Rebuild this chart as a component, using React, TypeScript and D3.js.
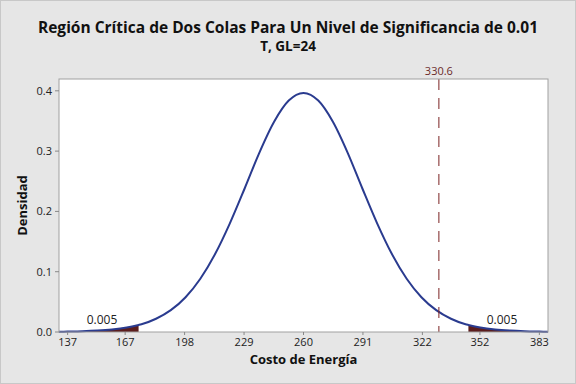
import React from "react";
import * as d3 from "d3";

const xValues = [132.5, 137, 144.7, 152.4, 160.1, 167.8, 174, 175.5, 183.1, 190.8, 198.5, 206.2, 213.9, 221.6, 229.3, 236.9, 244.6, 252.3, 260, 267.7, 275.4, 283.1, 290.7, 298.4, 306.1, 313.8, 321.5, 329.2, 336.9, 344.5, 346, 352.2, 359.9, 367.6, 375.3, 383, 387.5];
const densities = [0.0004, 0.00067, 0.00124, 0.00229, 0.00415, 0.0074, 0.0117, 0.0129, 0.022, 0.0362, 0.0577, 0.0884, 0.1293, 0.1802, 0.238, 0.2968, 0.3483, 0.3838, 0.3965, 0.3838, 0.3483, 0.2968, 0.238, 0.1802, 0.1293, 0.0884, 0.0577, 0.0362, 0.022, 0.0129, 0.0117, 0.0074, 0.00415, 0.00229, 0.00124, 0.00067, 0.0004];
const xTicks = [137, 167, 198, 229, 260, 291, 322, 352, 383];
const yTicks = [0.0, 0.1, 0.2, 0.3, 0.4];
const lowerCritical = 174;
const upperCritical = 346;
const markerValue = 330.6;
const tailAreas = ["0.005", "0.005"];
const title = "Región Crítica de Dos Colas Para Un Nivel de Significancia de 0.01";
const subtitle = "T, GL=24";
const xLabel = "Costo de Energía";
const yLabel = "Densidad";

export default function App() {
  const W = 576, H = 384;
  const L = 59, R = 548, T = 79, B = 332;
  const x = d3.scaleLinear().domain([132.5, 387.5]).range([L, R]);
  const y = d3.scaleLinear().domain([0, 0.4196]).range([B, T]);
  const pts: [number, number][] = xValues.map((v, i) => [v, densities[i]]);
  const line = d3.line<[number, number]>().x(d => x(d[0])).y(d => y(d[1])).curve(d3.curveMonotoneX);
  const area = d3.area<[number, number]>().x(d => x(d[0])).y0(y(0)).y1(d => y(d[1])).curve(d3.curveMonotoneX);
  const leftTail = pts.filter(p => p[0] <= lowerCritical);
  const rightTail = pts.filter(p => p[0] >= upperCritical);
  const font = "'Open Sans', 'Noto Sans', sans-serif";
  const tail = "#5b1d1d";
  return (
    <svg width={W} height={H} style={{ position: "absolute", left: 0, top: 0, display: "block" }} fontFamily={font}>
      <rect x={0.5} y={0.5} width={W - 1} height={H - 1} fill="#e6e6e6" stroke="#c8c8c8" />
      <text x={288} y={33} textAnchor="middle" fontSize={15.5} fontWeight="bold" fill="#111">{title}</text>
      <text x={288} y={51} textAnchor="middle" fontSize={13.5} fontWeight="bold" fill="#111">{subtitle}</text>
      <rect x={L} y={T} width={R - L} height={B - T} fill="#fff" />
      <path d={area(leftTail) || ""} fill={tail} />
      <path d={area(rightTail) || ""} fill={tail} />
      <path d={line(pts) || ""} fill="none" stroke="#2a3b8f" strokeWidth={2} />
      <line x1={x(markerValue)} x2={x(markerValue)} y1={T} y2={B} stroke="#7a2222" strokeWidth={1} strokeDasharray="11,8" />
      <text x={x(markerValue)} y={T - 4} textAnchor="middle" fontSize={11} fill="#6b2a2a">{markerValue}</text>
      <text x={102} y={B - 8} textAnchor="middle" fontSize={12} fill="#222">{tailAreas[0]}</text>
      <text x={502} y={B - 8} textAnchor="middle" fontSize={12} fill="#222">{tailAreas[1]}</text>
      <rect x={L} y={T} width={R - L} height={B - T} fill="none" stroke="#a0a0a0" />
      {yTicks.map(t => (
        <g key={t}>
          <line x1={L - 4} x2={L} y1={y(t)} y2={y(t)} stroke="#888" />
          <text x={L - 7} y={y(t) + 4} textAnchor="end" fontSize={11} fill="#222">{t.toFixed(1)}</text>
        </g>
      ))}
      {xTicks.map(t => (
        <g key={t}>
          <line x1={x(t)} x2={x(t)} y1={B} y2={B + 3} stroke="#888" />
          <text x={x(t)} y={B + 14} textAnchor="middle" fontSize={11} fill="#222">{t}</text>
        </g>
      ))}
      <text x={(L + R) / 2} y={364} textAnchor="middle" fontSize={13} fontWeight="bold" fill="#111">{xLabel}</text>
      <text transform={`translate(27,${(T + B) / 2}) rotate(-90)`} textAnchor="middle" fontSize={13} fontWeight="bold" fill="#111">{yLabel}</text>
    </svg>
  );
}
